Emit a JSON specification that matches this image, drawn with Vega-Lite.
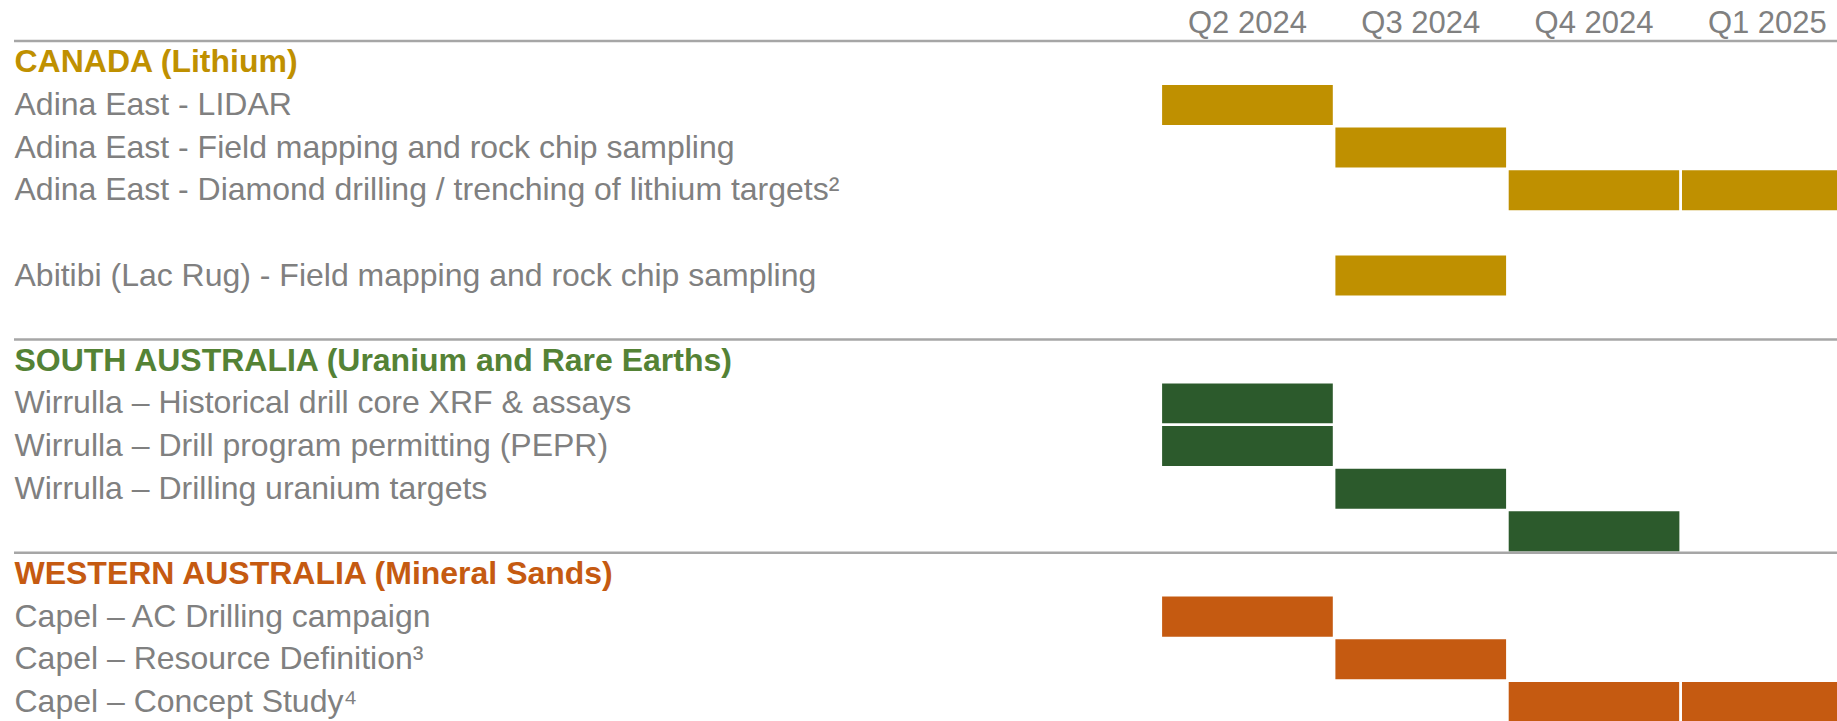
{
  "$schema": "https://vega.github.io/schema/vega-lite/v6.json",
  "width": 1823,
  "height": 682.24,
  "padding": {"left": 14, "top": 41, "right": 0, "bottom": 0},
  "autosize": {"type": "none"},
  "background": "white",
  "config": {"view": {"stroke": null}, "font": "Liberation Sans"},
  "datasets": {
    "rows": [
      {"label": "CANADA (Lithium)", "kind": "header", "group": "Canada"},
      {"label": "Adina East - LIDAR", "kind": "task", "group": "Canada"},
      {"label": "Adina East - Field mapping and rock chip sampling", "kind": "task", "group": "Canada"},
      {"label": "Adina East - Diamond drilling / trenching of lithium targets²", "kind": "task", "group": "Canada"},
      {"label": " ", "kind": "blank", "group": "Canada"},
      {"label": "Abitibi (Lac Rug) - Field mapping and rock chip sampling", "kind": "task", "group": "Canada"},
      {"label": "  ", "kind": "blank", "group": "Canada"},
      {"label": "SOUTH AUSTRALIA (Uranium and Rare Earths)", "kind": "header", "group": "South Australia"},
      {"label": "Wirrulla – Historical drill core XRF & assays", "kind": "task", "group": "South Australia"},
      {"label": "Wirrulla – Drill program permitting (PEPR)", "kind": "task", "group": "South Australia"},
      {"label": "Wirrulla – Drilling uranium targets", "kind": "task", "group": "South Australia"},
      {"label": "   ", "kind": "task", "group": "South Australia"},
      {"label": "WESTERN AUSTRALIA (Mineral Sands)", "kind": "header", "group": "Western Australia"},
      {"label": "Capel – AC Drilling campaign", "kind": "task", "group": "Western Australia"},
      {"label": "Capel – Resource Definition³", "kind": "task", "group": "Western Australia"},
      {"label": "Capel – Concept Study⁴", "kind": "task", "group": "Western Australia"}
    ],
    "bars": [
      {"label": "Adina East - LIDAR", "quarter": "Q2 2024", "group": "Canada"},
      {"label": "Adina East - Field mapping and rock chip sampling", "quarter": "Q3 2024", "group": "Canada"},
      {"label": "Adina East - Diamond drilling / trenching of lithium targets²", "quarter": "Q4 2024", "group": "Canada"},
      {"label": "Adina East - Diamond drilling / trenching of lithium targets²", "quarter": "Q1 2025", "group": "Canada"},
      {"label": "Abitibi (Lac Rug) - Field mapping and rock chip sampling", "quarter": "Q3 2024", "group": "Canada"},
      {"label": "Wirrulla – Historical drill core XRF & assays", "quarter": "Q2 2024", "group": "South Australia"},
      {"label": "Wirrulla – Drill program permitting (PEPR)", "quarter": "Q2 2024", "group": "South Australia"},
      {"label": "Wirrulla – Drilling uranium targets", "quarter": "Q3 2024", "group": "South Australia"},
      {"label": "   ", "quarter": "Q4 2024", "group": "South Australia"},
      {"label": "Capel – AC Drilling campaign", "quarter": "Q2 2024", "group": "Western Australia"},
      {"label": "Capel – Resource Definition³", "quarter": "Q3 2024", "group": "Western Australia"},
      {"label": "Capel – Concept Study⁴", "quarter": "Q4 2024", "group": "Western Australia"},
      {"label": "Capel – Concept Study⁴", "quarter": "Q1 2025", "group": "Western Australia"}
    ]
  },
  "layer": [
    {
      "data": {"name": "bars"},
      "mark": {"type": "bar", "stroke": "white", "strokeWidth": 2.6},
      "encoding": {
        "x": {
          "field": "quarter", "type": "nominal",
          "scale": {"domain": ["Q2 2024", "Q3 2024", "Q4 2024", "Q1 2025"], "range": [1146.8, 1840], "paddingInner": 0, "paddingOuter": 0},
          "axis": {
            "orient": "top", "title": null, "domain": false, "ticks": false, "tickSize": 0, "grid": false,
            "labelFontSize": 31, "labelColor": "#808080", "labelPadding": 8, "labelBaseline": "alphabetic",
            "labelAngle": 0, "labelOverlap": false
          }
        },
        "y": {
          "field": "label", "type": "nominal",
          "scale": {
            "domain": [
              "CANADA (Lithium)", "Adina East - LIDAR", "Adina East - Field mapping and rock chip sampling",
              "Adina East - Diamond drilling / trenching of lithium targets²", " ",
              "Abitibi (Lac Rug) - Field mapping and rock chip sampling", "  ",
              "SOUTH AUSTRALIA (Uranium and Rare Earths)", "Wirrulla – Historical drill core XRF & assays",
              "Wirrulla – Drill program permitting (PEPR)", "Wirrulla – Drilling uranium targets", "   ",
              "WESTERN AUSTRALIA (Mineral Sands)", "Capel – AC Drilling campaign",
              "Capel – Resource Definition³", "Capel – Concept Study⁴"
            ],
            "paddingInner": 0, "paddingOuter": 0
          },
          "axis": {
            "title": null, "domain": false, "ticks": false, "tickSize": 0, "grid": false,
            "labelAlign": "left", "labelPadding": 0, "labelLimit": 0, "labelOverlap": false,
            "labelFontSize": 32, "labelBaseline": "middle",
            "labelColor": {
              "condition": [
                {"test": "indexof(datum.value, 'CANADA') === 0", "value": "#bf9000"},
                {"test": "indexof(datum.value, 'SOUTH') === 0", "value": "#548235"},
                {"test": "indexof(datum.value, 'WESTERN') === 0", "value": "#c55a11"}
              ],
              "value": "#808080"
            },
            "labelFontWeight": {"condition": {"test": "test(/^[A-Z]{4}/, datum.value)", "value": "bold"}, "value": "normal"}
          }
        },
        "color": {
          "field": "group", "type": "nominal",
          "scale": {"domain": ["Canada", "South Australia", "Western Australia"], "range": ["#bf9000", "#2c5a2c", "#c55a11"]},
          "legend": null
        }
      }
    },
    {
      "data": {"name": "rows"},
      "transform": [{"filter": "datum.kind === 'header'"}],
      "mark": {"type": "rule", "color": "#a6a6a6", "strokeWidth": 2.5},
      "encoding": {
        "y": {"field": "label", "type": "nominal", "bandPosition": 0}
      }
    }
  ]
}
